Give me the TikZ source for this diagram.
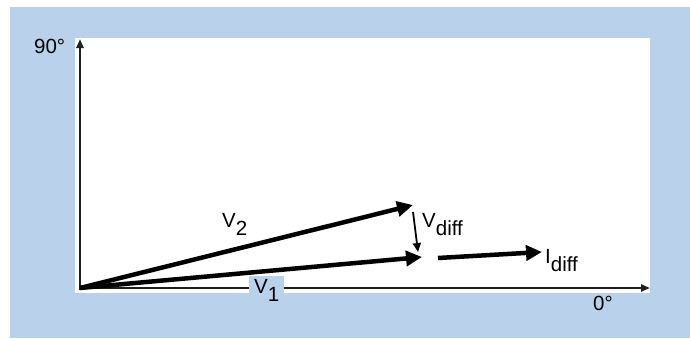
\documentclass[tikz,border=0pt]{standalone}
\usepackage{fontspec}
\setmainfont{Liberation Sans}
\usepackage{xcolor}
\usepackage{tikz}
\usetikzlibrary{positioning, arrows.meta}
\definecolor{panelblue}{HTML}{B9D1EA}
\definecolor{ejegris}{HTML}{231F20}
\newcommand{\lowsub}[2]{#1\raisebox{-8pt}{#2}}

\begin{document}
\begin{tikzpicture}[
    x=1pt, y=-1pt,
    every node/.style={font=\fontsize{20.5}{20.5}\selectfont, inner sep=0pt},
    vector/.style={line width=4.5pt, -{Triangle[length=16pt,width=15pt]}},
    eje/.style={line width=2.5pt, draw=ejegris, -{Triangle[length=9pt,width=7pt]}}
]
\useasboundingbox (0,0) rectangle (690,338);
\fill[panelblue] (10,7) rectangle (690,338);
\fill[white] (75,38) rectangle (650,293);

% ejes
\coordinate (origen) at (80,288);
\coordinate (tope) at (80,39);
\coordinate (fin) at (650,288);
\draw[eje] (80,290) -- (tope);
\draw[eje] (origen) -- (fin);

% vectores
\coordinate (v2tip) at (413,205);
\coordinate (v1tip) at (422,257);
\draw[vector] (origen) -- (v2tip);
\draw[vector] (origen) -- (v1tip);

\coordinate (dtop) at (413,212);
\coordinate (dbot) at (418,252);
\draw[line width=1.8pt, -{Triangle[length=9pt,width=8pt]}] (dtop) -- (dbot);

\coordinate (istart) at (438,258);
\coordinate (itip) at (542,252);
\draw[vector] (istart) -- (itip);

% etiquetas
\node[anchor=base west] (n90) at (34,53) {90°};
\node[anchor=base west] (n0) at (593,310) {0°};
\node[anchor=base west] (lv2) at (222,227) {\lowsub{V}{2}};
\node[anchor=base west] (lvd) at (422,227) {\lowsub{V}{diff}};
\node[anchor=base west] (lid) at (545,263) {\lowsub{I}{diff}};
\node[anchor=base west, fill=panelblue, inner xsep=5pt, inner ysep=3pt] (lv1) at (249,293) {\lowsub{V}{1}};
\end{tikzpicture}
\end{document}
